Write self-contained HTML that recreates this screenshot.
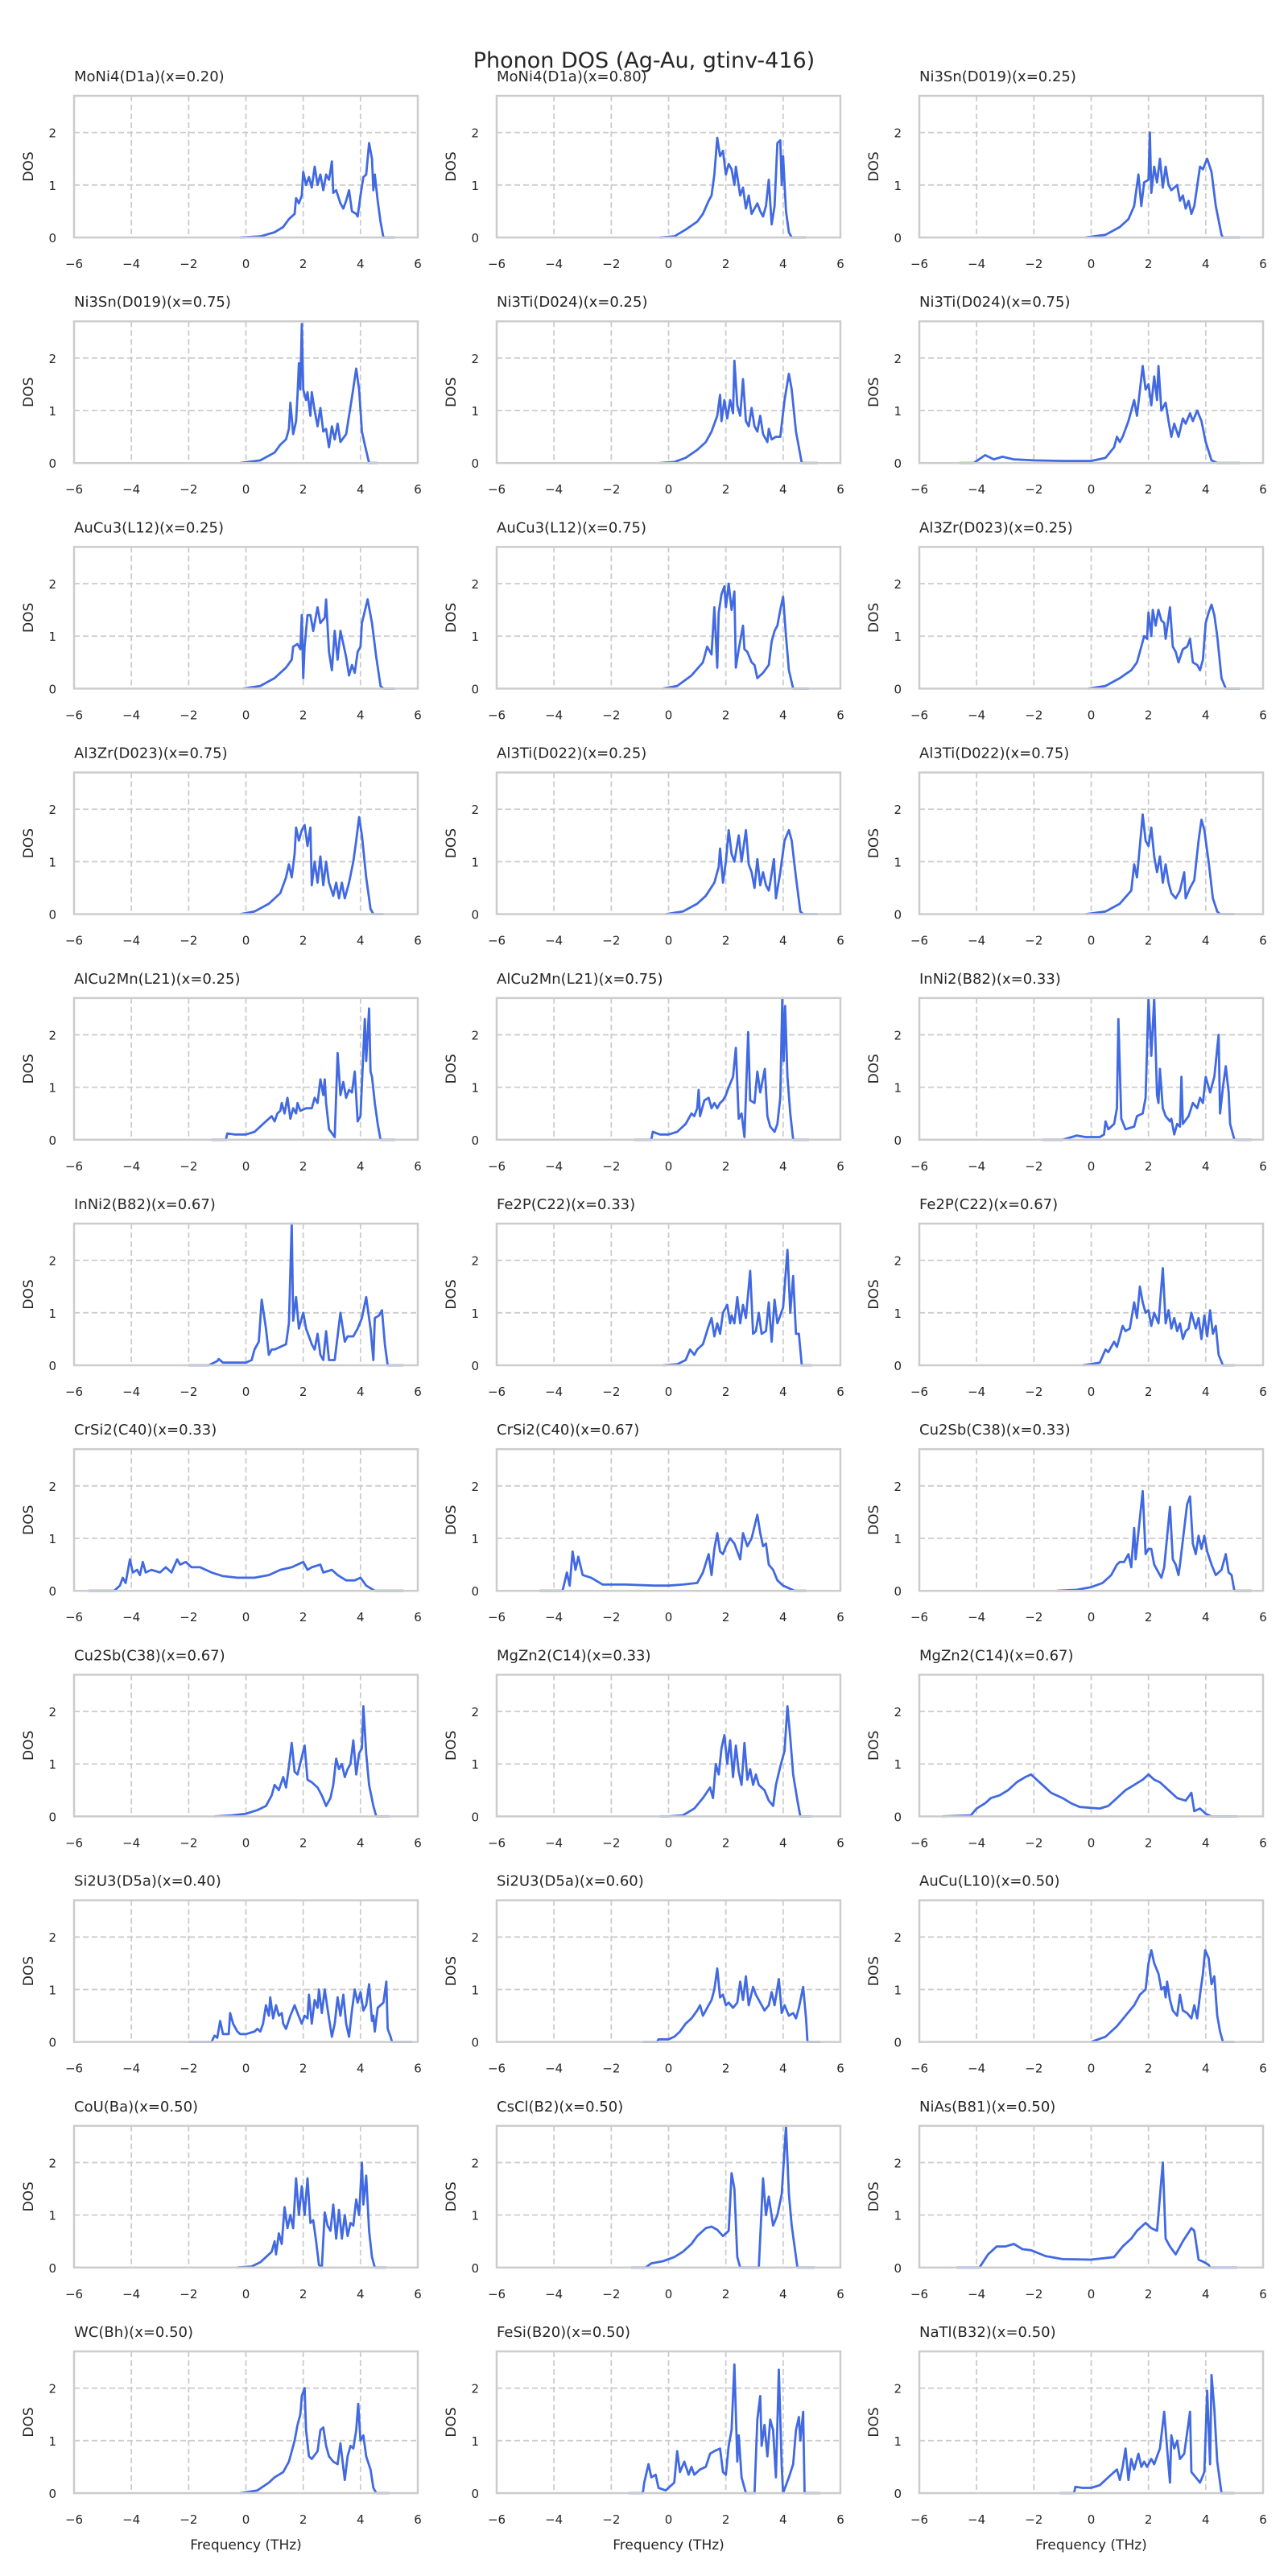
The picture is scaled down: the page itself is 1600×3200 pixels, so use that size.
<!DOCTYPE html>
<html><head><meta charset="utf-8"><title>Phonon DOS (Ag-Au, gtinv-416)</title>
<style>
html,body{margin:0;padding:0;background:#fff;}
svg{display:block;font-family:"DejaVu Sans","Liberation Sans",sans-serif;}
</style></head>
<body>
<svg id="fig" width="1600" height="3200" viewBox="0 0 1600 3200" xmlns="http://www.w3.org/2000/svg">
<rect width="1600" height="3200" fill="#fff"/>
<text x="800" y="84" font-size="27" text-anchor="middle" fill="#262626">Phonon DOS (Ag-Au, gtinv-416)</text>
</svg>
<script>
const titles = ["MoNi4(D1a)(x=0.20)","MoNi4(D1a)(x=0.80)","Ni3Sn(D019)(x=0.25)","Ni3Sn(D019)(x=0.75)","Ni3Ti(D024)(x=0.25)","Ni3Ti(D024)(x=0.75)","AuCu3(L12)(x=0.25)","AuCu3(L12)(x=0.75)","Al3Zr(D023)(x=0.25)","Al3Zr(D023)(x=0.75)","Al3Ti(D022)(x=0.25)","Al3Ti(D022)(x=0.75)","AlCu2Mn(L21)(x=0.25)","AlCu2Mn(L21)(x=0.75)","InNi2(B82)(x=0.33)","InNi2(B82)(x=0.67)","Fe2P(C22)(x=0.33)","Fe2P(C22)(x=0.67)","CrSi2(C40)(x=0.33)","CrSi2(C40)(x=0.67)","Cu2Sb(C38)(x=0.33)","Cu2Sb(C38)(x=0.67)","MgZn2(C14)(x=0.33)","MgZn2(C14)(x=0.67)","Si2U3(D5a)(x=0.40)","Si2U3(D5a)(x=0.60)","AuCu(L10)(x=0.50)","CoU(Ba)(x=0.50)","CsCl(B2)(x=0.50)","NiAs(B81)(x=0.50)","WC(Bh)(x=0.50)","FeSi(B20)(x=0.50)","NaTl(B32)(x=0.50)"];
const xTicks = [-6,-4,-2,0,2,4,6];
const yTicks = [0,1,2];
const xDomain = [-6,6];
const yDomain = [0,2.7];
const dos = [
[[-0.2,0],[0.5,0.02],[1,0.1],[1.3,0.2],[1.5,0.35],[1.7,0.45],[1.75,0.75],[1.85,0.65],[1.95,0.8],[2.0,1.25],[2.1,1.0],[2.2,1.15],[2.3,0.95],[2.4,1.35],[2.5,1.0],[2.6,1.2],[2.7,0.9],[2.8,1.2],[2.9,1.1],[3.0,1.45],[3.05,0.85],[3.15,0.9],[3.3,0.65],[3.4,0.55],[3.5,0.7],[3.6,0.9],[3.7,0.5],[3.85,0.45],[3.9,0.4],[4.0,0.8],[4.1,1.15],[4.2,1.2],[4.3,1.8],[4.4,1.5],[4.45,0.9],[4.5,1.2],[4.6,0.7],[4.7,0.3],[4.8,0],[5.2,0]],
[[-0.3,0],[0.2,0.02],[0.6,0.15],[1.0,0.3],[1.2,0.45],[1.4,0.7],[1.5,0.8],[1.6,1.2],[1.7,1.9],[1.8,1.55],[1.9,1.65],[2.0,1.2],[2.1,1.4],[2.2,1.3],[2.3,1.0],[2.35,1.35],[2.5,0.8],[2.6,0.95],[2.7,0.55],[2.8,0.8],[2.9,0.45],[3.0,0.55],[3.1,0.65],[3.2,0.5],[3.3,0.4],[3.4,0.6],[3.5,1.1],[3.6,0.25],[3.7,0.6],[3.8,1.8],[3.9,1.85],[3.95,1.0],[4.0,1.55],[4.1,0.5],[4.2,0.1],[4.3,0],[4.8,0]],
[[-0.2,0],[0.5,0.05],[1,0.2],[1.3,0.35],[1.5,0.6],[1.65,1.2],[1.75,0.6],[1.85,1.05],[2.0,1.1],[2.05,2.0],[2.1,0.85],[2.2,1.35],[2.3,1.05],[2.4,1.5],[2.5,0.95],[2.6,1.35],[2.7,1.0],[2.8,0.9],[3.0,1.0],[3.1,0.7],[3.2,0.8],[3.3,0.55],[3.4,0.7],[3.5,0.45],[3.6,0.6],[3.8,1.35],[3.9,1.3],[4.05,1.5],[4.2,1.25],[4.35,0.6],[4.55,0.05],[4.6,0],[5.2,0]],
[[-0.2,0],[0.5,0.05],[1.0,0.2],[1.2,0.35],[1.4,0.45],[1.5,0.65],[1.55,1.15],[1.65,0.55],[1.75,0.8],[1.8,1.3],[1.85,1.9],[1.9,1.4],[1.95,2.65],[2.0,1.4],[2.1,1.2],[2.15,1.35],[2.25,0.9],[2.3,1.35],[2.4,1.0],[2.5,0.7],[2.6,1.05],[2.7,0.6],[2.8,0.65],[2.9,0.3],[3.0,0.7],[3.1,0.45],[3.2,0.75],[3.3,0.4],[3.5,0.55],[3.7,1.25],[3.85,1.8],[3.95,1.4],[4.05,0.6],[4.15,0.35],[4.3,0],[4.6,0]],
[[-0.3,0],[0.2,0.02],[0.6,0.1],[1.0,0.25],[1.3,0.4],[1.5,0.6],[1.7,0.9],[1.8,1.3],[1.85,0.8],[1.95,1.2],[2.05,0.85],[2.15,1.2],[2.25,0.95],[2.3,1.95],[2.4,1.1],[2.5,0.9],[2.6,1.6],[2.7,0.8],[2.8,0.7],[2.9,1.05],[3.0,0.7],[3.1,0.6],[3.2,0.9],[3.3,0.55],[3.45,0.4],[3.5,0.65],[3.6,0.45],[3.75,0.5],[3.9,0.5],[4.05,1.2],[4.2,1.7],[4.3,1.4],[4.45,0.6],[4.65,0],[5.2,0]],
[[-4.6,0],[-4.1,0],[-3.7,0.15],[-3.4,0.07],[-3.1,0.12],[-2.7,0.07],[-2,0.05],[-1,0.04],[0,0.04],[0.5,0.1],[0.8,0.3],[0.9,0.5],[1.0,0.4],[1.1,0.5],[1.3,0.8],[1.5,1.2],[1.6,0.9],[1.8,1.85],[1.9,1.4],[2.0,1.5],[2.1,1.1],[2.2,1.65],[2.3,1.2],[2.35,1.85],[2.45,1.0],[2.6,1.15],[2.7,0.8],[2.8,0.5],[2.9,0.75],[3.05,0.5],[3.2,0.85],[3.3,0.75],[3.45,0.95],[3.55,0.8],[3.7,1.0],[3.85,0.8],[4.0,0.4],[4.2,0.05],[4.4,0],[5.2,0]],
[[-0.1,0],[0.5,0.05],[1.0,0.2],[1.4,0.4],[1.6,0.55],[1.65,0.8],[1.8,0.85],[1.9,0.75],[1.95,1.4],[2.0,0.2],[2.05,0.8],[2.15,1.4],[2.25,1.4],[2.35,1.1],[2.5,1.55],[2.6,1.25],[2.75,1.35],[2.8,1.7],[2.9,0.7],[3.0,0.35],[3.1,1.1],[3.2,0.55],[3.3,1.1],[3.4,0.85],[3.5,0.6],[3.6,0.25],[3.7,0.45],[3.8,0.3],[3.9,0.7],[4.0,0.8],[4.05,1.25],[4.25,1.7],[4.4,1.25],[4.55,0.6],[4.7,0.05],[4.8,0],[5.2,0]],
[[-0.2,0],[0.3,0.05],[0.8,0.25],[1.2,0.5],[1.35,0.8],[1.5,0.65],[1.6,1.55],[1.7,0.4],[1.75,1.45],[1.85,1.8],[1.95,1.95],[2.0,1.55],[2.1,2.0],[2.2,1.5],[2.3,1.85],[2.35,0.4],[2.45,0.75],[2.6,1.2],[2.65,0.75],[2.75,0.7],[2.9,0.5],[3.0,0.45],[3.1,0.2],[3.3,0.3],[3.5,0.45],[3.6,0.9],[3.7,1.1],[3.8,1.2],[3.9,1.5],[4.0,1.75],[4.1,1.0],[4.2,0.35],[4.35,0],[4.9,0]],
[[-0.1,0],[0.5,0.05],[1,0.2],[1.4,0.35],[1.6,0.5],[1.75,0.8],[1.85,1.0],[1.95,0.95],[2.0,1.45],[2.1,1.0],[2.15,1.5],[2.25,1.2],[2.35,1.5],[2.45,1.3],[2.55,1.25],[2.6,0.95],[2.75,1.55],[2.85,0.8],[2.95,0.7],[3.05,0.5],[3.2,0.75],[3.35,0.8],[3.45,0.95],[3.55,0.5],[3.7,0.45],[3.8,0.35],[3.9,0.55],[4.0,1.25],[4.1,1.45],[4.2,1.6],[4.3,1.4],[4.4,1.0],[4.55,0.2],[4.7,0],[5.2,0]],
[[-0.2,0],[0.3,0.05],[0.8,0.2],[1.2,0.4],[1.4,0.7],[1.5,0.95],[1.6,0.7],[1.7,1.15],[1.75,1.65],[1.85,1.4],[1.95,1.6],[2.05,1.7],[2.15,1.3],[2.25,1.65],[2.3,0.55],[2.4,1.0],[2.5,0.6],[2.6,1.1],[2.7,0.55],[2.8,1.0],[2.9,0.6],[3.05,0.35],[3.15,0.6],[3.25,0.3],[3.35,0.6],[3.45,0.3],[3.6,0.6],[3.75,1.0],[3.85,1.4],[3.95,1.85],[4.05,1.5],[4.2,0.7],[4.35,0.1],[4.45,0],[4.8,0]],
[[-0.1,0],[0.5,0.05],[1.0,0.2],[1.3,0.35],[1.6,0.6],[1.75,0.9],[1.8,1.25],[1.9,0.6],[2.0,1.0],[2.1,1.6],[2.2,1.15],[2.3,1.0],[2.45,1.5],[2.55,1.0],[2.7,1.6],[2.8,0.95],[2.9,0.8],[3.0,0.5],[3.1,1.05],[3.2,0.55],[3.3,0.8],[3.4,0.55],[3.5,0.45],[3.55,0.6],[3.68,1.05],[3.75,0.3],[3.9,0.8],[4.05,1.4],[4.2,1.6],[4.3,1.4],[4.45,0.7],[4.6,0.05],[4.7,0],[5.2,0]],
[[-0.2,0],[0.5,0.05],[1.0,0.2],[1.4,0.45],[1.5,0.95],[1.6,0.7],[1.7,1.3],[1.8,1.9],[1.9,1.4],[2.0,1.3],[2.1,1.65],[2.2,1.1],[2.3,0.8],[2.4,1.1],[2.5,0.6],[2.6,0.95],[2.7,0.6],[2.8,0.4],[2.95,0.3],[3.1,0.45],[3.25,0.8],[3.3,0.3],[3.45,0.5],[3.6,0.65],[3.75,1.4],[3.85,1.8],[3.95,1.6],[4.1,1.0],[4.25,0.3],[4.4,0.05],[4.5,0],[5.0,0]],
[[-1.2,0],[-0.7,0],[-0.65,0.12],[-0.4,0.1],[0,0.1],[0.3,0.15],[0.6,0.3],[0.8,0.4],[0.9,0.45],[1.0,0.35],[1.1,0.5],[1.2,0.55],[1.25,0.7],[1.35,0.5],[1.45,0.8],[1.55,0.4],[1.65,0.6],[1.75,0.5],[1.8,0.7],[1.9,0.55],[2.1,0.6],[2.3,0.6],[2.4,0.8],[2.5,0.7],[2.6,1.15],[2.7,0.85],[2.75,1.15],[2.8,0.7],[2.85,0.45],[2.9,0.2],[3.1,0.05],[3.2,1.65],[3.3,0.85],[3.4,1.1],[3.5,0.8],[3.6,0.95],[3.7,0.9],[3.8,1.3],[3.9,0.35],[4.0,0.45],[4.15,2.3],[4.2,1.5],[4.3,2.5],[4.35,1.3],[4.4,1.2],[4.5,0.7],[4.6,0.3],[4.7,0],[5.2,0]],
[[-1.2,0],[-0.6,0],[-0.55,0.15],[-0.3,0.1],[0,0.1],[0.3,0.15],[0.6,0.3],[0.7,0.4],[0.8,0.5],[0.9,0.45],[1.0,0.6],[1.05,0.95],[1.1,0.45],[1.25,0.75],[1.4,0.8],[1.5,0.6],[1.6,0.7],[1.7,0.6],[1.8,0.7],[1.9,0.75],[2.0,0.85],[2.1,1.0],[2.25,1.2],[2.35,1.75],[2.45,0.4],[2.55,0.5],[2.65,0.05],[2.78,2.05],[2.85,0.75],[3.0,0.7],[3.1,1.3],[3.2,0.9],[3.36,1.35],[3.45,0.45],[3.55,0.25],[3.7,0.15],[3.8,0.3],[3.9,0.8],[3.97,2.7],[4.02,1.5],[4.07,2.55],[4.15,1.2],[4.25,0.5],[4.35,0],[4.9,0]],
[[-1.7,0],[-1.0,0],[-0.5,0.08],[-0.2,0.05],[0.3,0.05],[0.45,0.1],[0.5,0.35],[0.6,0.2],[0.8,0.3],[0.9,0.6],[0.95,2.3],[1.05,0.4],[1.2,0.2],[1.5,0.25],[1.6,0.45],[1.8,0.5],[1.9,0.8],[2.0,2.7],[2.1,1.6],[2.2,2.7],[2.3,0.85],[2.35,0.7],[2.4,1.35],[2.5,0.6],[2.6,0.45],[2.75,0.35],[2.8,0.4],[2.9,0.1],[3.0,0.3],[3.1,0.25],[3.15,1.2],[3.2,0.3],[3.4,0.45],[3.55,0.7],[3.7,0.6],[3.8,0.8],[3.9,0.7],[4.0,1.2],[4.15,0.9],[4.3,1.2],[4.45,2.0],[4.5,0.5],[4.6,1.0],[4.7,1.4],[4.8,0.9],[4.85,0.3],[5.0,0],[5.6,0]],
[[-2.0,0],[-1.3,0],[-1.0,0.08],[-0.95,0.12],[-0.8,0.05],[-0.3,0.05],[0,0.05],[0.2,0.1],[0.3,0.3],[0.45,0.45],[0.55,1.25],[0.7,0.7],[0.8,0.2],[0.9,0.3],[1.0,0.3],[1.2,0.35],[1.4,0.4],[1.5,0.8],[1.6,2.7],[1.65,0.85],[1.75,1.3],[1.85,0.7],[2.0,1.0],[2.1,0.7],[2.2,0.55],[2.3,0.4],[2.4,0.3],[2.5,0.6],[2.6,0.2],[2.7,0.1],[2.8,0.65],[2.9,0.1],[3.1,0.1],[3.3,1.0],[3.45,0.45],[3.55,0.55],[3.75,0.55],[3.9,0.7],[4.05,0.9],[4.2,1.3],[4.35,0.7],[4.45,0.1],[4.5,0.9],[4.65,0.95],[4.75,1.05],[4.85,0.4],[4.95,0],[5.5,0]],
[[-0.2,0],[0.3,0.02],[0.6,0.1],[0.75,0.3],[0.9,0.2],[1.0,0.3],[1.2,0.4],[1.4,0.75],[1.5,0.9],[1.6,0.55],[1.7,0.8],[1.8,0.6],[1.9,1.0],[2.05,1.15],[2.15,0.8],[2.2,0.95],[2.3,0.8],[2.4,1.3],[2.5,0.8],[2.6,1.15],[2.7,0.9],[2.85,1.8],[2.95,0.6],[3.05,0.65],[3.15,1.0],[3.25,0.6],[3.4,0.65],[3.5,1.2],[3.6,0.45],[3.7,1.25],[3.8,0.8],[3.9,0.95],[4.0,1.1],[4.15,2.2],[4.25,1.0],[4.35,1.7],[4.45,0.6],[4.55,0.6],[4.65,0],[5.0,0]],
[[-0.3,0],[0.3,0.05],[0.5,0.3],[0.6,0.25],[0.8,0.45],[0.9,0.35],[1.0,0.55],[1.1,0.75],[1.2,0.65],[1.35,0.7],[1.5,1.2],[1.6,0.9],[1.7,1.5],[1.8,1.2],[1.9,1.0],[2.0,1.05],[2.1,0.75],[2.2,1.0],[2.35,0.8],[2.5,1.85],[2.6,0.8],[2.7,1.05],[2.8,0.7],[2.9,0.9],[3.0,0.65],[3.1,0.8],[3.2,0.5],[3.3,0.65],[3.4,0.7],[3.5,1.0],[3.65,0.7],[3.75,0.9],[3.85,0.5],[3.95,0.95],[4.05,0.55],[4.15,1.05],[4.25,0.6],[4.35,0.75],[4.45,0.2],[4.6,0],[5.0,0]],
[[-5.5,0],[-4.6,0],[-4.4,0.1],[-4.3,0.25],[-4.2,0.15],[-4.05,0.6],[-3.95,0.35],[-3.8,0.4],[-3.7,0.3],[-3.6,0.55],[-3.5,0.35],[-3.3,0.4],[-3.0,0.35],[-2.8,0.45],[-2.6,0.35],[-2.4,0.6],[-2.3,0.5],[-2.1,0.55],[-1.9,0.45],[-1.6,0.45],[-1.2,0.35],[-0.8,0.28],[-0.3,0.25],[0.3,0.25],[0.8,0.3],[1.2,0.4],[1.6,0.45],[2.0,0.55],[2.15,0.4],[2.3,0.45],[2.6,0.5],[2.7,0.35],[3.0,0.4],[3.2,0.3],[3.5,0.2],[3.8,0.2],[4.0,0.25],[4.2,0.1],[4.5,0],[5.5,0]],
[[-4.5,0],[-3.7,0],[-3.55,0.35],[-3.45,0.1],[-3.35,0.75],[-3.25,0.4],[-3.15,0.65],[-3.0,0.3],[-2.7,0.25],[-2.3,0.12],[-1.5,0.12],[-0.5,0.1],[0,0.1],[0.5,0.12],[1.0,0.15],[1.2,0.35],[1.4,0.7],[1.5,0.3],[1.6,0.8],[1.7,1.1],[1.8,0.75],[1.9,0.7],[2.0,0.85],[2.15,1.0],[2.3,0.9],[2.5,0.6],[2.6,1.1],[2.75,0.85],[2.9,1.0],[3.1,1.45],[3.2,1.1],[3.3,0.85],[3.4,0.9],[3.5,0.5],[3.65,0.4],[3.8,0.2],[4.0,0.1],[4.4,0],[4.8,0]],
[[-1.2,0],[-0.5,0.02],[0,0.07],[0.4,0.15],[0.7,0.3],[0.9,0.5],[1.0,0.55],[1.15,0.55],[1.3,0.7],[1.4,0.45],[1.5,1.2],[1.55,0.6],[1.8,1.9],[1.9,0.7],[2.0,0.8],[2.1,0.8],[2.2,0.5],[2.3,0.4],[2.45,0.25],[2.55,0.45],[2.75,1.6],[2.85,0.6],[2.95,0.5],[3.05,0.3],[3.1,0.5],[3.35,1.65],[3.45,1.8],[3.55,0.9],[3.65,0.7],[3.75,1.05],[3.85,0.8],[3.95,1.05],[4.05,0.75],[4.2,0.5],[4.35,0.3],[4.55,0.4],[4.7,0.7],[4.8,0.35],[4.9,0.3],[5.0,0],[5.6,0]],
[[-1.1,0],[-0.5,0.02],[0,0.05],[0.4,0.12],[0.7,0.2],[0.9,0.4],[1.0,0.6],[1.15,0.5],[1.3,0.75],[1.4,0.55],[1.5,0.95],[1.6,1.4],[1.7,0.85],[1.8,0.8],[2.05,1.35],[2.15,0.7],[2.3,0.65],[2.5,0.55],[2.65,0.4],[2.8,0.2],[2.95,0.35],[3.05,0.6],[3.15,1.1],[3.25,0.9],[3.35,1.0],[3.45,0.75],[3.55,0.9],[3.65,1.0],[3.75,1.45],[3.85,0.8],[3.95,1.2],[4.05,1.3],[4.1,2.1],[4.2,1.2],[4.3,0.6],[4.45,0.2],[4.55,0],[5.0,0]],
[[-0.3,0],[0,0],[0.5,0.02],[0.9,0.15],[1.2,0.35],[1.45,0.55],[1.55,0.35],[1.65,1.0],[1.75,0.8],[1.85,1.3],[1.95,1.55],[2.05,1.0],[2.15,1.45],[2.25,0.75],[2.35,1.35],[2.45,0.85],[2.55,0.6],[2.65,1.4],[2.75,0.7],[2.85,0.9],[2.95,0.6],[3.05,0.8],[3.15,0.6],[3.35,0.5],[3.5,0.3],[3.65,0.2],[3.75,0.6],[3.9,0.95],[4.05,1.25],[4.15,2.1],[4.25,1.5],[4.35,0.8],[4.5,0.3],[4.6,0],[5.0,0]],
[[-5.2,0],[-4.2,0.02],[-4.0,0.15],[-3.7,0.25],[-3.5,0.35],[-3.2,0.4],[-2.9,0.5],[-2.6,0.65],[-2.3,0.75],[-2.1,0.8],[-1.9,0.7],[-1.7,0.6],[-1.4,0.45],[-1.0,0.35],[-0.7,0.25],[-0.4,0.18],[0.3,0.15],[0.6,0.2],[0.9,0.35],[1.2,0.5],[1.5,0.6],[1.8,0.7],[2.0,0.8],[2.2,0.7],[2.4,0.65],[2.7,0.5],[3.0,0.35],[3.3,0.3],[3.5,0.45],[3.6,0.1],[3.8,0.15],[4.0,0.05],[4.2,0],[5.1,0]],
[[-2.0,0],[-1.2,0],[-1.1,0.12],[-1.0,0.08],[-0.9,0.4],[-0.8,0.15],[-0.6,0.15],[-0.55,0.55],[-0.45,0.35],[-0.3,0.2],[-0.2,0.15],[0,0.15],[0.3,0.2],[0.4,0.25],[0.5,0.2],[0.6,0.35],[0.7,0.7],[0.8,0.5],[0.85,0.85],[0.95,0.45],[1.05,0.7],[1.15,0.5],[1.25,0.55],[1.3,0.35],[1.4,0.25],[1.55,0.5],[1.7,0.7],[1.8,0.55],[1.95,0.35],[2.05,0.5],[2.15,0.45],[2.2,0.9],[2.3,0.35],[2.4,0.8],[2.5,0.65],[2.55,1.0],[2.65,0.55],[2.75,1.0],[2.9,0.45],[3.0,0.1],[3.1,0.35],[3.2,0.85],[3.3,0.5],[3.4,0.9],[3.5,0.35],[3.6,0.1],[3.7,0.6],[3.8,1.0],[3.9,0.75],[4.0,0.95],[4.1,0.6],[4.2,0.7],[4.3,1.1],[4.4,0.4],[4.45,0.5],[4.5,0.2],[4.6,0.65],[4.8,0.75],[4.9,1.15],[4.95,0.25],[5.05,0.1],[5.1,0],[5.8,0]],
[[-0.9,0],[-0.4,0],[-0.35,0.05],[0,0.05],[0.2,0.1],[0.4,0.2],[0.6,0.35],[0.8,0.45],[1.0,0.6],[1.1,0.7],[1.2,0.5],[1.35,0.65],[1.5,0.8],[1.6,1.0],[1.7,1.4],[1.8,0.85],[1.9,0.9],[2.0,0.7],[2.1,0.75],[2.25,0.65],[2.4,0.75],[2.5,1.15],[2.6,0.8],[2.7,1.25],[2.8,0.7],[2.95,1.05],[3.05,0.9],[3.2,0.75],[3.35,0.6],[3.5,0.7],[3.6,0.95],[3.7,0.7],[3.85,1.2],[3.95,0.55],[4.05,0.7],[4.2,0.5],[4.35,0.55],[4.45,0.45],[4.55,0.65],[4.7,1.05],[4.8,0.45],[4.85,0],[5.3,0]],
[[0,0],[0.5,0.1],[0.9,0.3],[1.2,0.5],[1.5,0.7],[1.7,0.9],[1.9,1.0],[2.0,1.5],[2.1,1.75],[2.2,1.5],[2.35,1.3],[2.45,1.0],[2.55,1.05],[2.6,0.85],[2.65,1.15],[2.75,0.8],[2.85,0.6],[3.0,0.5],[3.1,0.9],[3.2,0.6],[3.35,0.55],[3.5,0.45],[3.6,0.7],[3.7,0.45],[3.8,0.9],[3.9,1.3],[3.98,1.75],[4.1,1.6],[4.2,1.1],[4.3,1.25],[4.4,0.5],[4.5,0.2],[4.6,0],[5.0,0]],
[[-0.3,0],[0.2,0.02],[0.5,0.1],[0.7,0.2],[0.9,0.3],[1.0,0.5],[1.05,0.25],[1.15,0.65],[1.25,0.45],[1.35,1.15],[1.45,0.75],[1.55,1.0],[1.65,0.75],[1.75,1.7],[1.85,1.0],[1.95,1.55],[2.05,1.0],[2.15,1.7],[2.25,0.85],[2.35,0.9],[2.45,0.5],[2.55,0.05],[2.65,0],[2.75,1.05],[2.85,0.8],[2.95,0.7],[3.05,1.2],[3.15,0.55],[3.25,1.1],[3.35,0.55],[3.45,1.0],[3.55,0.6],[3.65,0.85],[3.75,0.8],[3.85,1.3],[3.95,1.0],[4.05,2.0],[4.1,1.2],[4.2,1.75],[4.3,0.7],[4.4,0.2],[4.5,0],[4.9,0]],
[[-1.3,0],[-0.8,0],[-0.6,0.08],[-0.2,0.12],[0.2,0.2],[0.5,0.3],[0.8,0.45],[1.0,0.6],[1.3,0.75],[1.5,0.78],[1.7,0.72],[1.9,0.6],[2.1,0.7],[2.2,1.8],[2.3,1.5],[2.4,0.2],[2.5,0],[3.15,0],[3.3,1.7],[3.4,1.0],[3.5,1.35],[3.65,0.8],[3.8,1.0],[3.95,1.4],[4.1,2.7],[4.2,1.4],[4.3,0.8],[4.5,0],[5.1,0]],
[[-4.7,0],[-3.9,0],[-3.6,0.25],[-3.3,0.4],[-3.0,0.4],[-2.7,0.45],[-2.4,0.35],[-2.1,0.33],[-1.6,0.22],[-1.0,0.16],[0,0.15],[0.8,0.2],[1.1,0.4],[1.4,0.55],[1.6,0.7],[1.9,0.85],[2.1,0.75],[2.3,0.7],[2.5,2.0],[2.6,0.55],[2.75,0.4],[2.95,0.25],[3.2,0.5],[3.5,0.75],[3.6,0.7],[3.75,0.15],[3.95,0.1],[4.1,0.05],[4.15,0],[5.1,0]],
[[-0.2,0],[0.4,0.05],[0.8,0.2],[1.0,0.3],[1.3,0.4],[1.5,0.6],[1.7,1.0],[1.8,1.3],[1.9,1.5],[1.95,1.85],[2.05,2.0],[2.1,1.2],[2.2,0.7],[2.3,0.65],[2.5,0.8],[2.6,1.2],[2.7,1.25],[2.8,0.9],[2.9,0.7],[3.05,0.6],[3.2,0.55],[3.3,0.95],[3.45,0.25],[3.55,0.7],[3.65,0.9],[3.75,0.85],[3.85,1.2],[3.92,1.7],[4.0,1.0],[4.1,1.1],[4.2,0.7],[4.35,0.45],[4.45,0.1],[4.55,0],[5.0,0]],
[[-1.4,0],[-0.9,0],[-0.85,0.2],[-0.7,0.55],[-0.6,0.3],[-0.45,0.35],[-0.35,0.1],[-0.1,0.05],[0.2,0.2],[0.3,0.8],[0.4,0.4],[0.55,0.6],[0.7,0.35],[0.8,0.5],[0.9,0.35],[1.1,0.45],[1.3,0.5],[1.45,0.75],[1.6,0.8],[1.8,0.85],[1.9,0.4],[2.0,0.35],[2.1,0.9],[2.2,1.2],[2.3,2.45],[2.4,0.6],[2.45,1.1],[2.55,0.3],[2.7,0],[3.0,0],[3.1,1.4],[3.2,1.85],[3.25,0.9],[3.35,1.3],[3.45,0.7],[3.55,1.4],[3.65,1.2],[3.75,0.3],[3.85,2.35],[3.95,0.5],[4.0,0],[4.2,0.3],[4.35,0.55],[4.45,1.2],[4.55,1.45],[4.6,1.0],[4.7,1.55],[4.75,0],[5.3,0]],
[[-1.1,0],[-0.6,0],[-0.55,0.12],[-0.3,0.1],[0,0.1],[0.3,0.15],[0.6,0.3],[0.9,0.45],[1.0,0.25],[1.1,0.5],[1.2,0.85],[1.3,0.25],[1.4,0.65],[1.5,0.45],[1.65,0.75],[1.75,0.5],[1.85,0.6],[1.95,0.5],[2.1,0.65],[2.2,0.55],[2.3,0.7],[2.4,0.85],[2.55,1.55],[2.65,0.85],[2.75,0.2],[2.8,1.1],[2.9,0.85],[3.0,1.0],[3.1,0.65],[3.25,0.75],[3.45,1.55],[3.5,0.4],[3.65,0.3],[3.8,0.2],[3.95,0.4],[4.05,1.95],[4.15,0.55],[4.2,2.25],[4.3,1.6],[4.4,0.6],[4.55,0],[5.0,0]]
];

const NS = "http://www.w3.org/2000/svg";
const svg = document.getElementById("fig");
const colLeft = [92, 617, 1142];
const axW = 427, row0 = 295, rowStep = 280.2, axH = 176;
function mk(tag, attrs, parent) {
  const e = document.createElementNS(NS, tag);
  for (const k in attrs) e.setAttribute(k, attrs[k]);
  parent.appendChild(e);
  return e;
}
titles.forEach((title, i) => {
  const r = Math.floor(i / 3), c = i % 3;
  const left = colLeft[c], bottom = row0 + r * rowStep, top = bottom - axH;
  const sx = v => left + (v - xDomain[0]) / (xDomain[1] - xDomain[0]) * axW;
  const sy = v => bottom - (v - yDomain[0]) / (yDomain[1] - yDomain[0]) * axH;
  const g = mk("g", {}, svg);
  
  
  xTicks.forEach(t => {
    if (t > xDomain[0] && t < xDomain[1]) {
      const l = mk("line", {x1: sx(t), x2: sx(t), y1: top, y2: bottom, stroke: "#cccccc", "stroke-width": 1.8, "stroke-dasharray": "7,4"}, g);
      
      
    }
    const tl = mk("text", {x: sx(t), y: bottom + 38, "font-size": 15, "text-anchor": "middle", fill: "#262626"}, g);
    tl.textContent = t < 0 ? "\u2212" + Math.abs(t) : String(t);
    
    
  });
  yTicks.forEach(t => {
    const l = mk("line", {x1: left, x2: left + axW, y1: sy(t), y2: sy(t), stroke: "#cccccc", "stroke-width": 1.8, "stroke-dasharray": "7,4"}, g);
    
    
    const tl = mk("text", {x: left - 22, y: sy(t) + 6, "font-size": 15, "text-anchor": "end", fill: "#262626"}, g);
    tl.textContent = String(t);
    
    
  });
  const pts = dos[i].map(p => sx(p[0]).toFixed(1) + "," + sy(p[1]).toFixed(1)).join(" ");
  const line = mk("polyline", {points: pts, fill: "none", stroke: "#4169e1", "stroke-width": 2.8, "stroke-linejoin": "round"}, g);
  
  
  const frame = mk("rect", {x: left, y: top, width: axW, height: axH, fill: "none", stroke: "#cccccc", "stroke-width": 2.5}, g);
  
  
  const tt = mk("text", {x: left, y: top - 18, "font-size": 18, fill: "#262626"}, g);
  tt.textContent = title;
  
  
  const yl = mk("text", {x: 0, y: 0, "font-size": 17, "text-anchor": "middle", fill: "#262626", transform: "translate(" + (left - 51) + "," + (top + axH / 2) + ") rotate(-90)"}, g);
  yl.textContent = "DOS";
  
  
  if (r === 10) {
    const xl = mk("text", {x: left + axW / 2, y: bottom + 70, "font-size": 17, "text-anchor": "middle", fill: "#262626"}, g);
    xl.textContent = "Frequency (THz)";
    
    
  }
});
</script>
</body></html>
